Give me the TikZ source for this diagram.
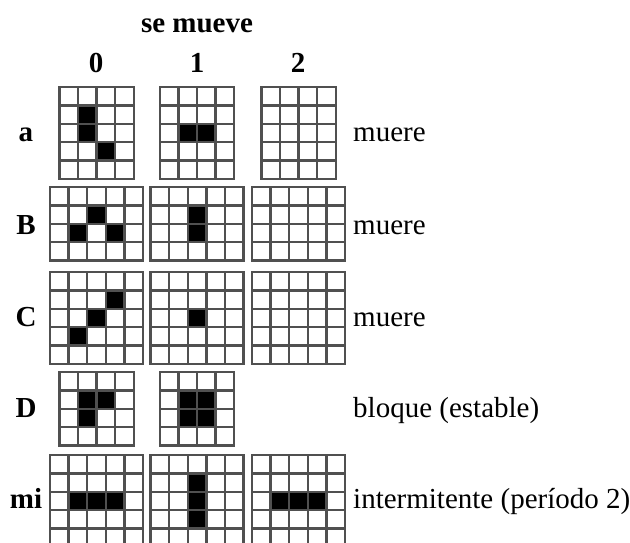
\documentclass[tikz,border=0pt]{standalone}
\usepackage{fontspec}
\setmainfont{Liberation Serif}
\definecolor{gridgray}{RGB}{80,80,80}
\tikzset{
  gridline/.style={line width=2.4pt, draw=gridgray, line cap=rect},
  headtxt/.style={font=\fontsize{29}{34}\selectfont\bfseries, inner sep=0pt, anchor=base},
  rowtxt/.style={font=\fontsize{29}{34}\selectfont\bfseries, inner sep=0pt, anchor=base},
  desctxt/.style={font=\fontsize{29}{34}\selectfont, inner sep=0pt, anchor=base west}
}
\newcommand\lifegrid[5]{%
  \begin{scope}[shift={({#1-#3*9.3},#2)}, x=18.6pt, y=-18.4pt]
    \fill[white] (0,0) rectangle (#3,#4);
    \if\relax\detokenize{#5}\relax\else
      \foreach \c/\r in {#5} { \fill[black] (\c,\r) rectangle ++(1,1); }
    \fi
    \foreach \i in {0,...,#3} { \draw[gridline] (\i,0) -- (\i,#4); }
    \foreach \j in {0,...,#4} { \draw[gridline] (0,\j) -- (#3,\j); }
  \end{scope}}
\begin{document}
\begin{tikzpicture}[x=1pt, y=-1pt]
\useasboundingbox (0,0) rectangle (630,542);
\clip (0,0) rectangle (630,542);
\fill[white] (0,0) rectangle (630,542);
% headers
\node[headtxt] (title) at (197,32) {se mueve};
\node[headtxt] (h0) at (96,72) {0};
\node[headtxt] (h1) at (197,72) {1};
\node[headtxt] (h2) at (298,72) {2};
% row a
\node[rowtxt] (ra) at (26,141) {a};
\lifegrid{96.5}{87}{4}{5}{1/1,1/2,2/3}
\lifegrid{197}{87}{4}{5}{1/2,2/2}
\lifegrid{298.5}{87}{4}{5}{}
\node[desctxt] (da) at (353,141) {muere};
% row B
\node[rowtxt] (rb) at (26,234) {B};
\lifegrid{96.5}{187}{5}{4}{2/1,1/2,3/2}
\lifegrid{197}{187}{5}{4}{2/1,2/2}
\lifegrid{298.5}{187}{5}{4}{}
\node[desctxt] (db) at (353,234) {muere};
% row C
\node[rowtxt] (rc) at (26,326) {C};
\lifegrid{96.5}{272}{5}{5}{3/1,2/2,1/3}
\lifegrid{197}{272}{5}{5}{2/2}
\lifegrid{298.5}{272}{5}{5}{}
\node[desctxt] (dc) at (353,326) {muere};
% row D
\node[rowtxt] (rd) at (26,417) {D};
\lifegrid{96.5}{372}{4}{4}{1/1,2/1,1/2}
\lifegrid{197}{372}{4}{4}{1/1,2/1,1/2,2/2}
\node[desctxt] (dd) at (353,417) {bloque (estable)};
% row mi
\node[rowtxt] (rm) at (26,508) {mi};
\lifegrid{96.5}{455}{5}{5}{1/2,2/2,3/2}
\lifegrid{197}{455}{5}{5}{2/1,2/2,2/3}
\lifegrid{298.5}{455}{5}{5}{1/2,2/2,3/2}
\node[desctxt] (dm) at (353,508) {intermitente (período 2)};
\end{tikzpicture}
\end{document}
